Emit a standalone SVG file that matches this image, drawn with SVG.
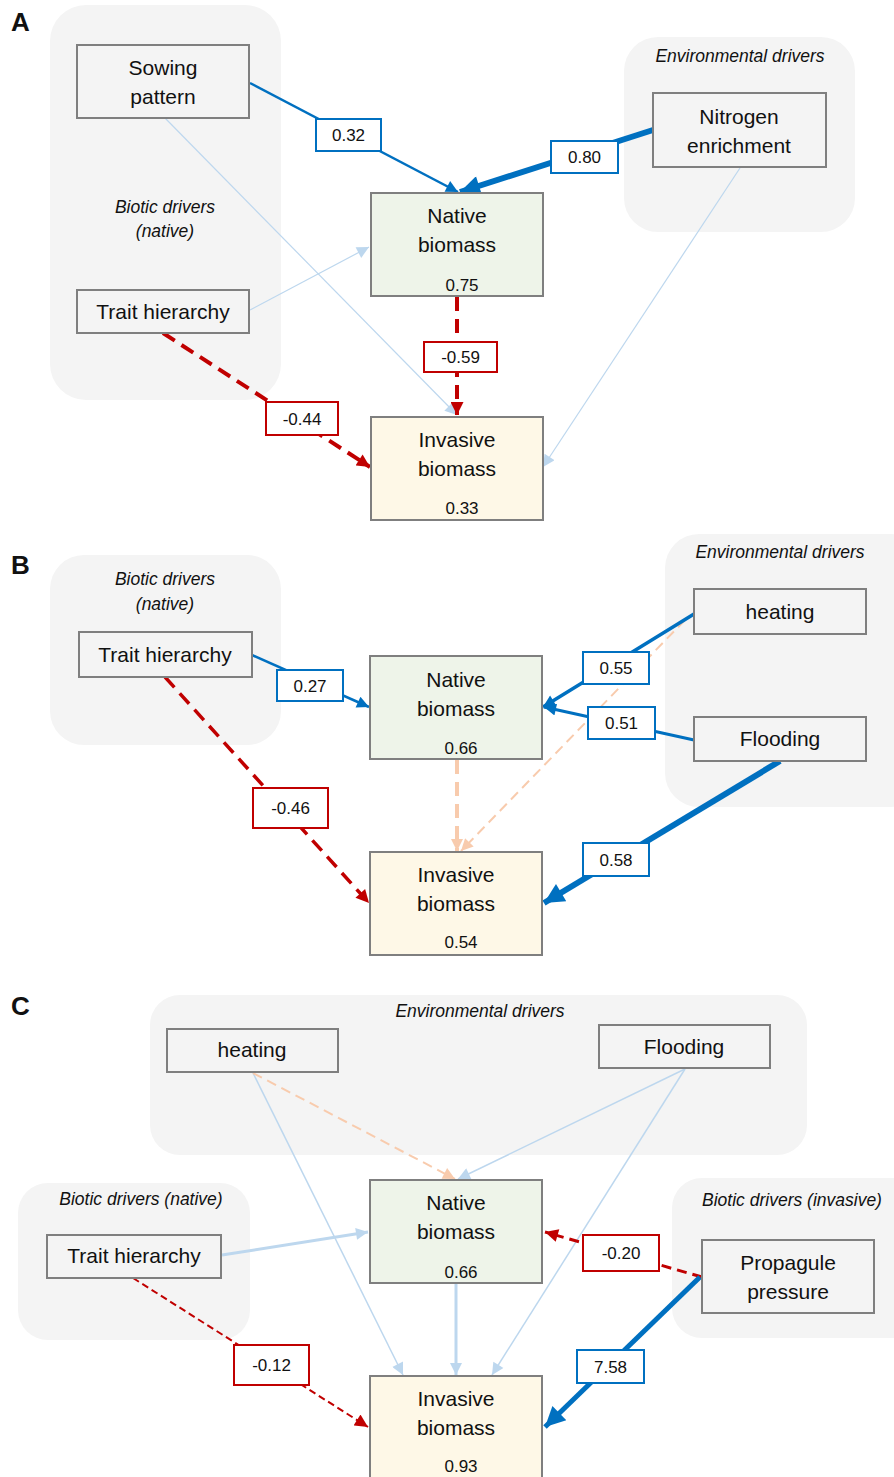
<svg xmlns="http://www.w3.org/2000/svg" width="894" height="1477" viewBox="0 0 894 1477">
<style>
.grp{fill:#f4f4f4;}
.drv{fill:#f4f4f4;stroke:#7f7f7f;stroke-width:2;}
.nat{fill:#eef4e9;stroke:#7f7f7f;stroke-width:2;}
.inv{fill:#fef8e7;stroke:#7f7f7f;stroke-width:2;}
text{font-family:"Liberation Sans",Arial,sans-serif;fill:#111;}
.t{font-size:21px;text-anchor:middle;}
.v{font-size:17px;text-anchor:middle;}
.it{font-size:17.5px;font-style:italic;text-anchor:middle;}
.pl{font-size:26px;font-weight:bold;}
.lb{fill:#fff;stroke:#0070c0;stroke-width:2;}
.lr{fill:#fff;stroke:#c00000;stroke-width:2;}
.lt{font-size:17px;text-anchor:middle;}
.blue{stroke:#0070c0;fill:none;}
.lblue{stroke:#bdd7ee;fill:none;}
.red{stroke:#c00000;fill:none;}
.peach{stroke:#f8cbad;fill:none;}
</style>
<defs>
<marker id="mB" viewBox="0 0 10 10" refX="10" refY="5" markerUnits="userSpaceOnUse" markerWidth="14" markerHeight="12" orient="auto"><path d="M0,0L10,5L0,10z" fill="#0070c0"/></marker>
<marker id="mBL" viewBox="0 0 10 10" refX="10" refY="5" markerUnits="userSpaceOnUse" markerWidth="24" markerHeight="20" orient="auto"><path d="M0,0L10,5L0,10z" fill="#0070c0"/></marker>
<marker id="mL" viewBox="0 0 10 10" refX="10" refY="5" markerUnits="userSpaceOnUse" markerWidth="14" markerHeight="12" orient="auto"><path d="M0,0L10,5L0,10z" fill="#bdd7ee"/></marker>
<marker id="mR" viewBox="0 0 10 10" refX="10" refY="5" markerUnits="userSpaceOnUse" markerWidth="14" markerHeight="13" orient="auto"><path d="M0,0L10,5L0,10z" fill="#c00000"/></marker>
<marker id="mP" viewBox="0 0 10 10" refX="10" refY="5" markerUnits="userSpaceOnUse" markerWidth="14" markerHeight="12" orient="auto"><path d="M0,0L10,5L0,10z" fill="#f8cbad"/></marker>
</defs>

<!-- Panel A -->
<g id="panelA">
<text class="pl" x="11" y="31">A</text>
<rect id="A-biotic-group" class="grp" x="50" y="5" width="231" height="395" rx="36"/>
<text class="it" x="165" y="213">Biotic drivers</text>
<text class="it" x="165" y="237">(native)</text>
<rect id="A-env-group" class="grp" x="624" y="37" width="231" height="195" rx="34"/>
<text class="it" x="740" y="62">Environmental drivers</text>
</g>

<g id="A-connectors">
<line class="lblue" x1="165" y1="118" x2="457" y2="415" stroke-width="1.2" marker-end="url(#mL)"/>
<line class="lblue" x1="250" y1="310" x2="369" y2="247" stroke-width="1.2" marker-end="url(#mL)"/>
<line class="lblue" x1="740" y1="168" x2="543" y2="467" stroke-width="1.2" marker-end="url(#mL)"/>
<line class="blue" x1="250" y1="83" x2="458" y2="192" stroke-width="2.5" marker-end="url(#mB)"/>
<line class="blue" x1="653" y1="130" x2="460" y2="192" stroke-width="6" marker-end="url(#mBL)"/>
<line class="red" x1="457" y1="297" x2="457" y2="415" stroke-width="4" stroke-dasharray="14 8" marker-end="url(#mR)"/>
<line class="red" x1="163" y1="333" x2="370" y2="467" stroke-width="4" stroke-dasharray="14 8" marker-end="url(#mR)"/>
<rect class="lb" x="316" y="119" width="65" height="32"/><text class="lt" x="348.5" y="141">0.32</text>
<rect class="lb" x="551" y="141" width="67" height="32"/><text class="lt" x="584.5" y="163">0.80</text>
<rect class="lr" x="424" y="342" width="73" height="30"/><text class="lt" x="460.5" y="363">-0.59</text>
<rect class="lr" x="266" y="402" width="72" height="33"/><text class="lt" x="302" y="425">-0.44</text>
</g>

<g id="A-sowing"><rect class="drv" x="77" y="45" width="172" height="73"/><text class="t" x="163" y="75">Sowing</text><text class="t" x="163" y="104">pattern</text></g>
<g id="A-trait"><rect class="drv" x="77" y="290" width="172" height="43"/><text class="t" x="163" y="319">Trait hierarchy</text></g>
<g id="A-nitrogen"><rect class="drv" x="653" y="93" width="173" height="74"/><text class="t" x="739" y="124">Nitrogen</text><text class="t" x="739" y="153">enrichment</text></g>
<g id="A-native"><rect class="nat" x="371" y="193" width="172" height="103"/><text class="t" x="457" y="223">Native</text><text class="t" x="457" y="252">biomass</text><text class="v" x="462" y="291">0.75</text></g>
<g id="A-invasive"><rect class="inv" x="371" y="417" width="172" height="103"/><text class="t" x="457" y="447">Invasive</text><text class="t" x="457" y="476">biomass</text><text class="v" x="462" y="514">0.33</text></g>

<!-- Panel B -->
<g id="panelB">
<text class="pl" x="11" y="574">B</text>
<rect id="B-biotic-group" class="grp" x="50" y="555" width="231" height="190" rx="34"/>
<text class="it" x="165" y="585">Biotic drivers</text>
<text class="it" x="165" y="610">(native)</text>
<rect id="B-env-group" class="grp" x="665" y="534" width="260" height="273" rx="34"/>
<text class="it" x="780" y="558">Environmental drivers</text>
</g>

<g id="B-connectors">
<line class="peach" x1="457" y1="760" x2="457" y2="851" stroke-width="4" stroke-dasharray="14 8" marker-end="url(#mP)"/>
<line class="peach" x1="685" y1="620" x2="461" y2="851" stroke-width="2" stroke-dasharray="10 6" marker-end="url(#mP)"/>
<line class="blue" x1="252" y1="655" x2="369" y2="707" stroke-width="2.5" marker-end="url(#mB)"/>
<line class="blue" x1="694" y1="614" x2="543" y2="707" stroke-width="3.5" marker-end="url(#mB)"/>
<line class="blue" x1="694" y1="740" x2="544" y2="707" stroke-width="3" marker-end="url(#mB)"/>
<line class="blue" x1="780" y1="761" x2="544" y2="903" stroke-width="6" marker-end="url(#mBL)"/>
<line class="red" x1="165" y1="677" x2="369" y2="903" stroke-width="3.5" stroke-dasharray="14 8" marker-end="url(#mR)"/>
<rect class="lb" x="277" y="670" width="66" height="31"/><text class="lt" x="310" y="692">0.27</text>
<rect class="lb" x="583" y="652" width="66" height="32"/><text class="lt" x="616" y="674">0.55</text>
<rect class="lb" x="588" y="707" width="67" height="32"/><text class="lt" x="621.5" y="729">0.51</text>
<rect class="lb" x="583" y="843" width="66" height="33"/><text class="lt" x="616" y="866">0.58</text>
<rect class="lr" x="253" y="788" width="75" height="40"/><text class="lt" x="290.5" y="814">-0.46</text>
</g>

<g id="B-trait"><rect class="drv" x="79" y="632" width="173" height="45"/><text class="t" x="165" y="662">Trait hierarchy</text></g>
<g id="B-heating"><rect class="drv" x="694" y="589" width="172" height="45"/><text class="t" x="780" y="619">heating</text></g>
<g id="B-flooding"><rect class="drv" x="694" y="717" width="172" height="44"/><text class="t" x="780" y="746">Flooding</text></g>
<g id="B-native"><rect class="nat" x="370" y="656" width="172" height="103"/><text class="t" x="456" y="687">Native</text><text class="t" x="456" y="716">biomass</text><text class="v" x="461" y="754">0.66</text></g>
<g id="B-invasive"><rect class="inv" x="370" y="852" width="172" height="103"/><text class="t" x="456" y="882">Invasive</text><text class="t" x="456" y="911">biomass</text><text class="v" x="461" y="948">0.54</text></g>

<!-- Panel C -->
<g id="panelC">
<text class="pl" x="11" y="1015">C</text>
<rect id="C-env-group" class="grp" x="150" y="995" width="657" height="160" rx="30"/>
<text class="it" x="480" y="1017">Environmental drivers</text>
<rect id="C-biotic-native-group" class="grp" x="18" y="1183" width="232" height="157" rx="30"/>
<text class="it" x="141" y="1205">Biotic drivers  (native)</text>
<rect id="C-biotic-invasive-group" class="grp" x="672" y="1178" width="250" height="160" rx="30"/>
<text class="it" x="792" y="1206">Biotic drivers  (invasive)</text>
</g>

<g id="C-connectors">
<line class="lblue" x1="253" y1="1073" x2="403" y2="1375" stroke-width="1.5" marker-end="url(#mL)"/>
<line class="peach" x1="253" y1="1073" x2="455" y2="1179" stroke-width="2" stroke-dasharray="10 6" marker-end="url(#mP)"/>
<line class="lblue" x1="685" y1="1069" x2="458" y2="1179" stroke-width="1.5" marker-end="url(#mL)"/>
<line class="lblue" x1="685" y1="1069" x2="492" y2="1375" stroke-width="1.5" marker-end="url(#mL)"/>
<line class="lblue" x1="222" y1="1255" x2="368" y2="1232" stroke-width="3" marker-end="url(#mL)"/>
<line class="lblue" x1="456" y1="1284" x2="456" y2="1375" stroke-width="3" marker-end="url(#mL)"/>
<line class="red" x1="702" y1="1277" x2="545" y2="1232" stroke-width="3" stroke-dasharray="10 6" marker-end="url(#mR)"/>
<line class="blue" x1="700" y1="1277" x2="545" y2="1427" stroke-width="5" marker-end="url(#mBL)"/>
<line class="red" x1="133" y1="1278" x2="368" y2="1427" stroke-width="2" stroke-dasharray="7 4" marker-end="url(#mR)"/>
<rect class="lr" x="583" y="1235" width="76" height="36"/><text class="lt" x="621" y="1259">-0.20</text>
<rect class="lb" x="577" y="1350" width="67" height="33"/><text class="lt" x="610.5" y="1373">7.58</text>
<rect class="lr" x="234" y="1345" width="75" height="40"/><text class="lt" x="271.5" y="1371">-0.12</text>
</g>

<g id="C-heating"><rect class="drv" x="167" y="1029" width="171" height="43"/><text class="t" x="252" y="1057">heating</text></g>
<g id="C-flooding"><rect class="drv" x="599" y="1025" width="171" height="43"/><text class="t" x="684" y="1054">Flooding</text></g>
<g id="C-trait"><rect class="drv" x="47" y="1235" width="174" height="43"/><text class="t" x="134" y="1263">Trait hierarchy</text></g>
<g id="C-propagule"><rect class="drv" x="702" y="1240" width="172" height="73"/><text class="t" x="788" y="1270">Propagule</text><text class="t" x="788" y="1299">pressure</text></g>
<g id="C-native"><rect class="nat" x="370" y="1180" width="172" height="103"/><text class="t" x="456" y="1210">Native</text><text class="t" x="456" y="1239">biomass</text><text class="v" x="461" y="1278">0.66</text></g>
<g id="C-invasive"><rect class="inv" x="370" y="1376" width="172" height="110"/><text class="t" x="456" y="1406">Invasive</text><text class="t" x="456" y="1435">biomass</text><text class="v" x="461" y="1472">0.93</text></g>
</svg>
